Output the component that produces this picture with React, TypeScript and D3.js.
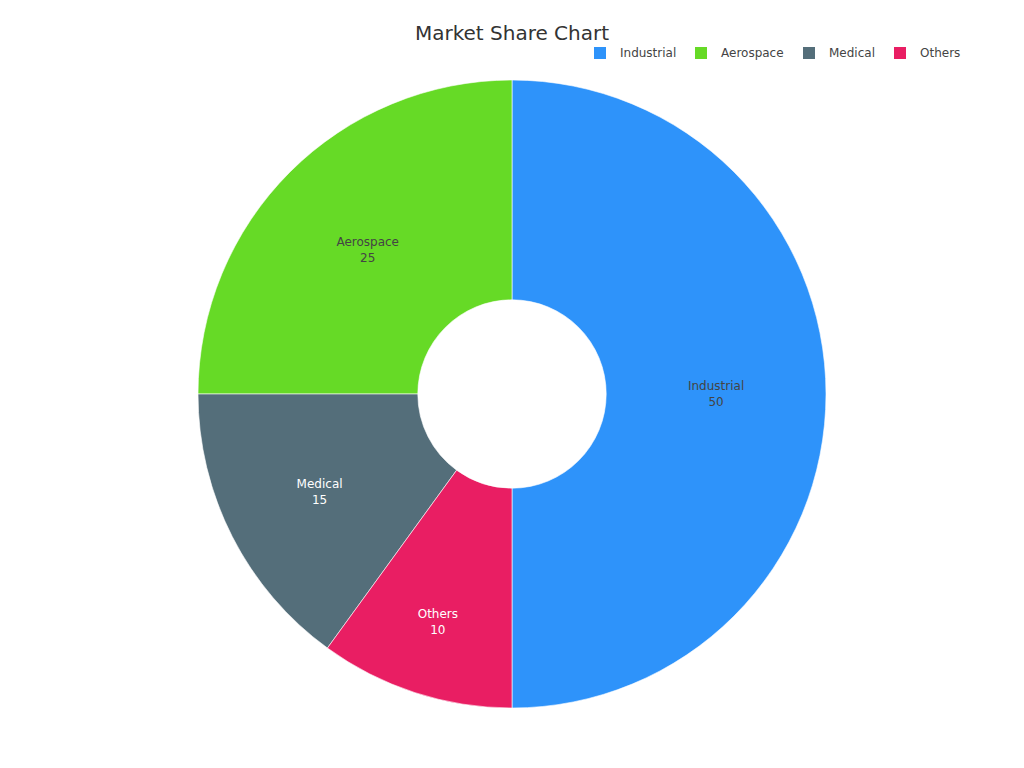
import { useEffect, useRef } from "react";
import * as d3 from "d3";

const width = 1024;
const height = 768;

const categories = ["Industrial", "Aerospace", "Medical", "Others"];
const shares = [50, 25, 15, 10];
const colors = ["#2E93fA", "#66DA26", "#546E7A", "#E91E63"];
const labelColors = ["#444444", "#444444", "#ffffff", "#ffffff"];

const center = { x: 512, y: 394 };
const outerRadius = 314;
const hole = 0.3;
const innerRadius = outerRadius * hole;
const font = "'DejaVu Sans', sans-serif";

type Slice = { name: string; value: number; i: number };

export default function App() {
  const svgRef = useRef<SVGSVGElement | null>(null);

  useEffect(() => {
    if (!svgRef.current) return;
    const svg = d3.select(svgRef.current);

    const data: Slice[] = categories.map((name, i) => ({ name, value: shares[i], i }));

    // 從底部開始逆時針，讓 Industrial 佔右半邊
    const pie = d3
      .pie<Slice>()
      .sort(null)
      .value((d) => d.value)
      .startAngle(Math.PI)
      .endAngle(-Math.PI);

    const arc = d3.arc<d3.PieArcDatum<Slice>>().innerRadius(innerRadius).outerRadius(outerRadius);
    const arcs = pie(data);

    // 窄的扇形把 label 往外推（內切圓半徑的比例）
    const labelPos = (d: d3.PieArcDatum<Slice>) => {
      const half = Math.abs(d.endAngle - d.startAngle) / 2;
      const mid = (d.startAngle + d.endAngle) / 2;
      const rIns = Math.min(1 / (1 + 1 / Math.sin(half)), (1 - hole) / 2);
      const r = outerRadius * (1 - rIns);
      return [r * Math.sin(mid), -r * Math.cos(mid)];
    };

    const g = svg.select<SVGGElement>(".slices").attr("transform", `translate(${center.x}, ${center.y})`);

    g.selectAll("path")
      .data(arcs)
      .join("path")
      .attr("d", arc)
      .attr("fill", (d) => colors[d.data.i])
      .attr("stroke", "#ffffff")
      .attr("stroke-width", 0.6);

    const labels = g
      .selectAll<SVGTextElement, d3.PieArcDatum<Slice>>("text")
      .data(arcs)
      .join("text")
      .attr("transform", (d) => `translate(${labelPos(d)})`)
      .attr("text-anchor", "middle")
      .attr("fill", (d) => labelColors[d.data.i])
      .style("font-family", font)
      .style("font-size", "12px");

    labels
      .selectAll("tspan")
      .data((d) => [d.data.name, String(d.data.value)])
      .join("tspan")
      .attr("x", 0)
      .attr("y", (_, j) => (j === 0 ? -8 : 8))
      .attr("dy", "0.35em")
      .text((d) => d);

    // legend
    const legend = svg.select<SVGGElement>(".legend").attr("transform", "translate(594, 53)");
    const items = legend
      .selectAll<SVGGElement, string>("g")
      .data(categories)
      .join("g");

    items
      .selectAll("rect")
      .data((d) => [d])
      .join("rect")
      .attr("x", 0)
      .attr("y", -6)
      .attr("width", 12)
      .attr("height", 12)
      .attr("fill", (d) => colors[categories.indexOf(d)]);

    items
      .selectAll("text")
      .data((d) => [d])
      .join("text")
      .attr("x", 26)
      .attr("dy", "0.35em")
      .attr("fill", "#444444")
      .style("font-family", font)
      .style("font-size", "12px")
      .text((d) => d);

    let offset = 0;
    items.each(function () {
      const item = d3.select(this);
      item.attr("transform", `translate(${offset}, 0)`);
      const t = item.select<SVGTextElement>("text").node();
      const w = t ? t.getComputedTextLength() : 60;
      offset += Math.round(26 + w + 19);
    });
  }, []);

  return (
    <svg
      ref={svgRef}
      width={width}
      height={height}
      viewBox={`0 0 ${width} ${height}`}
      style={{ display: "block", position: "absolute", left: 0, top: 0, background: "#fff" }}
    >
      <text
        x={512}
        y={33}
        dy="0.35em"
        textAnchor="middle"
        fill="#333333"
        style={{ fontFamily: font, fontSize: "20px" }}
      >
        Market Share Chart
      </text>
      <g className="slices" />
      <g className="legend" />
    </svg>
  );
}
